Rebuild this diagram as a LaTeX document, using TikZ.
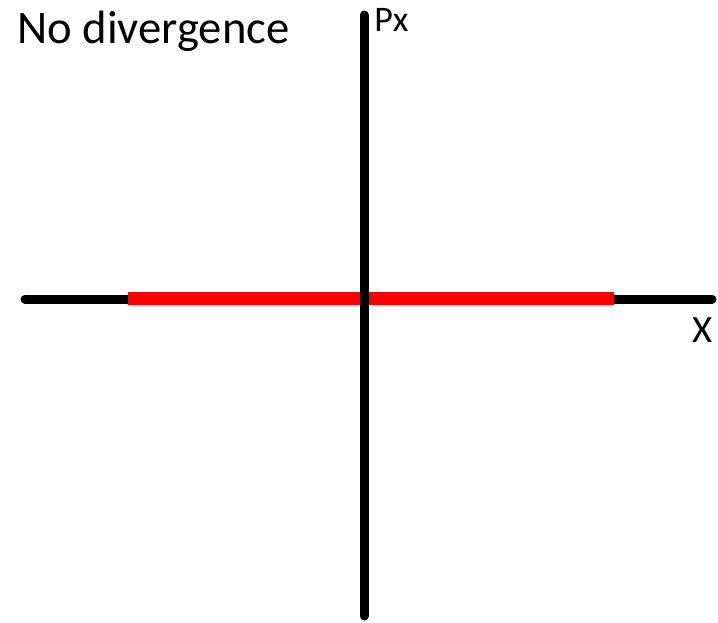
\documentclass[tikz,border=0pt]{standalone}
\usepackage{fontspec}
\setmainfont{Carlito}
\usetikzlibrary{positioning}
\definecolor{AXblack}{HTML}{000000}
\definecolor{AXred}{HTML}{FF0000}
\tikzset{axisline/.style={draw=AXblack,line width=6.75pt,line cap=round},
 beamline/.style={draw=AXred,line width=9.75pt},
 axlabel/.style={inner sep=0pt,anchor=base west}}
\begin{document}
\begin{tikzpicture}[x=0.75pt,y=-0.75pt]
\useasboundingbox (0,0) rectangle (718,622);
\coordinate (xl) at (25,299);
\coordinate (xr) at (712,299);
\coordinate (pt) at (364,15);
\coordinate (pb) at (364,616);
\coordinate (bl) at (128,298);
\coordinate (br) at (614,298);
\draw[axisline] (xl)--(xr);
\draw[beamline] (bl)--(br);
\draw[axisline] (pt)--(pb);
\node[axlabel,font=\fontsize{35pt}{40pt}\selectfont] (title) at (17,43) {No divergence};
\node[axlabel,font=\fontsize{27pt}{31pt}\selectfont] (plabel) at (374,31) {Px};
\node[axlabel,font=\fontsize{29pt}{33pt}\selectfont] (xlabel) at (692,342) {X};
\end{tikzpicture}
\end{document}
